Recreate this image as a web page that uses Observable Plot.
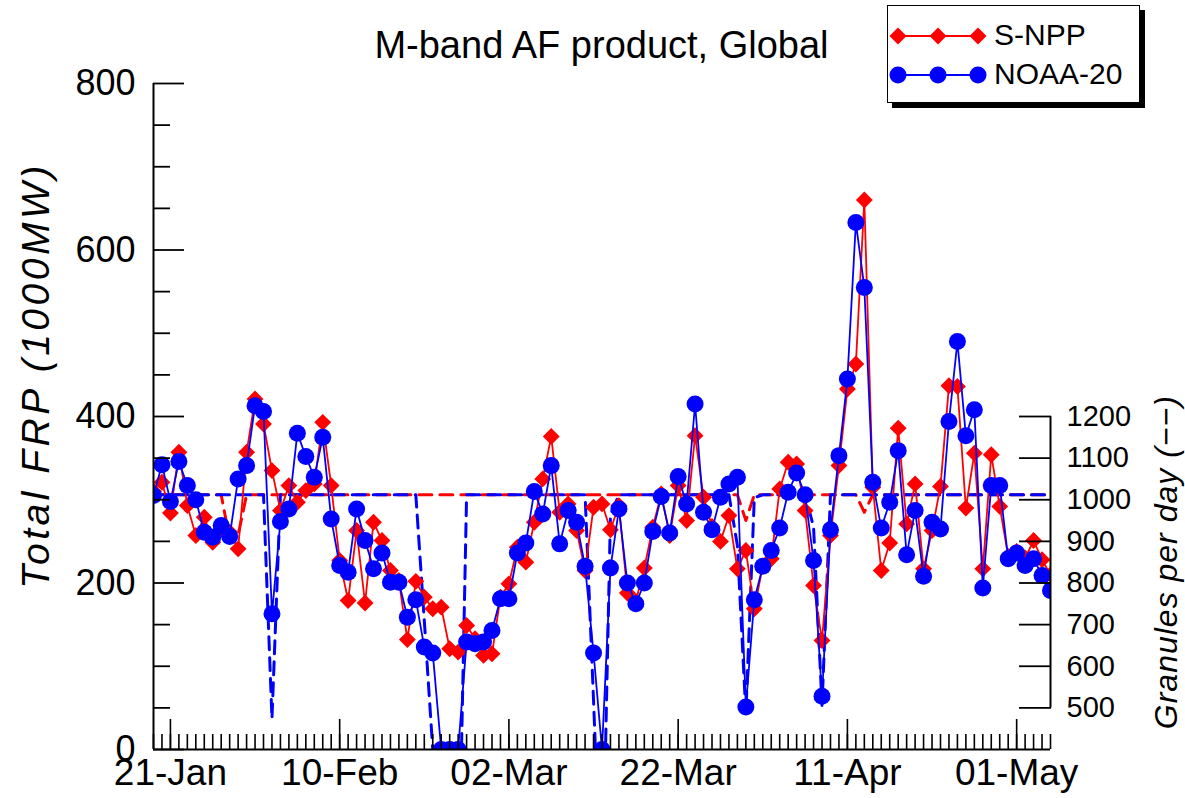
<!DOCTYPE html>
<html>
<head>
<meta charset="utf-8">
<script src="https://cdn.jsdelivr.net/npm/d3@7"></script>
<script src="https://cdn.jsdelivr.net/npm/@observablehq/plot@0.6"></script>
<style>
  body { margin: 0; background: #fff; font-family: "Liberation Sans", Arial, Helvetica, sans-serif; }
  #wrap { position: relative; width: 1185px; height: 798px; overflow: hidden; }
  #title { position: absolute; left: 153px; width: 897px; top: 24px; text-align: center; font-size: 38px; line-height: 42px; color: #000; }
  #legend { position: absolute; left: 887px; top: 5px; width: 253px; height: 98px; box-sizing: border-box;
            border: 1.5px solid #000; background: #fff; box-shadow: 5px 5px 0 #000; }
  #legend svg { position: absolute; left: 0; top: 0; }
  #legend .lab { position: absolute; left: 106px; font-size: 30px; line-height: 34px; color: #000; }
</style>
</head>
<body>
<div id="wrap">
  <div id="chart"></div>
  <div id="title">M-band AF product, Global</div>
  <div id="legend"></div>
</div>
<script>
// ---------- data (daily, starting 19-Jan) ----------
const startDate = "2021-01-19";

// Total FRP (1000MW), S-NPP
const snpp = [
  310,321,284,357,293,257,279,249,265,261,241,357,421,                       // Jan 19-31
  391,335,287,317,297,311,319,393,317,227,179,263,176,273,251,215,203,132,    // Feb 1-18
  202,183,169,171,121,117,149,133,113,115,                                    // Feb 19-28
  183,199,243,225,273,325,376,285,295,263,215,291,295,264,293,188,178,218,    // Mar 1-18
  267,307,257,317,275,377,303,268,250,281,217,239,169,                        // Mar 19-31
  220,229,313,345,343,287,197,131,257,341,433,463,660,315,215,248,386,271,    // Apr 1-18
  319,217,263,316,437,436,290,356,217,354,292,232,                            // Apr 19-30
  238,230,251,228,210                                                         // May 1-5
];

// Total FRP (1000MW), NOAA-20
const noaa20 = [
  305,342,298,346,317,300,261,255,269,256,325,341,413,
  406,163,274,289,380,352,327,375,277,221,213,289,251,217,236,201,201,159,
  180,123,116,0,0,0,129,127,129,143,
  181,181,236,248,310,283,341,247,287,273,220,116,0,218,289,200,175,200,
  262,304,260,328,295,415,285,264,303,319,327,51,180,
  220,239,266,309,332,306,227,64,264,353,445,633,555,321,266,297,359,234,
  287,208,273,265,394,490,377,408,194,317,317,229,
  236,221,229,209,191
];

// Granules per day, S-NPP
const granSnpp = [
  1012,1012,1012,1012,1012,1012,1012,1012,1012,905,915,1012,1012,
  1012,1012,1012,1012,1012,1012,1012,1012,1012,1012,1012,1012,1012,1012,1012,1012,1012,1012,
  1012,1012,1012,1012,1012,1012,1012,1012,1012,1012,
  1012,1012,1012,1012,1012,1012,1012,1012,1012,1012,1012,1012,1012,1012,1012,1012,1012,1012,
  1012,1012,1012,1012,1012,1012,1012,1012,1012,1012,1012,950,1012,
  1012,1012,1012,1012,1012,1012,1012,1012,1012,1012,1012,1012,970,1012,1012,1012,1012,1012,
  1012,1012,1012,1012,1012,1012,1012,1012,1012,1012,1012,1012,
  1012,1012,1012,1012,1012
];

// Granules per day, NOAA-20
const granNoaa20 = [
  1012,1012,1012,1012,1012,1012,1012,1012,1012,1012,1012,1012,1012,
  1012,474,1012,1012,1012,1012,1012,1012,1012,1012,1012,1012,1012,1012,1012,1012,1012,1012,
  1012,710,400,0,0,0,1012,1012,1012,1012,
  1012,1012,1012,1012,1012,1012,1012,1012,1012,1012,1012,518,0,964,1012,1012,1012,1012,
  1012,1012,1012,1012,1012,1012,1012,1012,1012,1012,890,486,1005,
  1012,1012,1012,1012,1012,1012,935,506,1012,1012,1012,1012,1012,1012,1012,1012,1012,1012,
  1012,1012,1012,1012,1012,1012,1012,1012,1012,1012,1012,1012,
  1012,1012,1012,1012,1012
];

const xTickLabels = ["21-Jan", "10-Feb", "02-Mar", "22-Mar", "11-Apr", "01-May"];
const frpMajor = [0, 200, 400, 600, 800];
const frpMinor = [50, 100, 150, 250, 300, 350, 450, 500, 550, 650, 700, 750];
const granTicks = [500, 600, 700, 800, 900, 1000, 1100, 1200];
const seriesNames = ["S-NPP", "NOAA-20"];
const yLabel = "Total FRP (1000MW)";
const rLabel = "Granules per day (\u2212\u2212)";

// ---------- build ----------
const RED = "#ff0000", BLUE = "#0000ff";
const d0 = d3.utcParse("%Y-%m-%d")(startDate);
const dates = snpp.map((_, i) => d3.utcDay.offset(d0, i));
const dEnd = dates[dates.length - 1];
const year = d0.getUTCFullYear();
const xMajor = xTickLabels.map(s => d3.utcParse("%d-%b-%Y")(s + "-" + year));
const fmt = d3.utcFormat("%d-%b");
// secondary axis: granules g placed on the FRP axis (1200 -> 400, 500 -> 50)
const toY = g => g / 2 - 200;
const fromY = v => String(Math.round((v + 200) * 2));

const rows = dates.map((date, i) => ({
  date, snpp: snpp[i], noaa: noaa20[i], gS: toY(granSnpp[i]), gN: toY(granNoaa20[i])
}));
const blank = () => "";
const gMid = (granTicks[0] + granTicks[granTicks.length - 1]) / 2;

const chart = Plot.plot({
  width: 1185, height: 798,
  marginLeft: 153, marginRight: 135, marginTop: 83, marginBottom: 49,
  style: { fontFamily: "'Liberation Sans', Arial, Helvetica, sans-serif", color: "#000", background: "#fff", overflow: "visible" },
  x: { type: "utc", domain: [d0, dEnd], label: null },
  y: { domain: [0, 800], label: null },
  marks: [
    // granule dashed lines
    Plot.line(rows, { x: "date", y: "gS", stroke: RED, strokeWidth: 3, strokeDasharray: "13,8", clip: true }),
    Plot.line(rows, { x: "date", y: "gN", stroke: BLUE, strokeWidth: 3, strokeDasharray: "13,8", clip: true }),
    // FRP series
    Plot.line(rows, { x: "date", y: "snpp", stroke: RED, strokeWidth: 1.8, clip: true }),
    Plot.dot(rows, { x: "date", y: "snpp", symbol: "diamond2", r: 7.6, fill: RED, clip: true }),
    Plot.line(rows, { x: "date", y: "noaa", stroke: BLUE, strokeWidth: 1.8, clip: true }),
    Plot.dot(rows, { x: "date", y: "noaa", r: 8.5, fill: BLUE, clip: true }),
    // axis lines
    Plot.ruleX([d0], { stroke: "#000", strokeWidth: 2 }),
    Plot.ruleY([0], { stroke: "#000", strokeWidth: 2 }),
    Plot.ruleX([dEnd], { y1: toY(granTicks[0]), y2: toY(granTicks[granTicks.length - 1]), stroke: "#000", strokeWidth: 2 }),
    // x axis
    Plot.axisX(dates, { tickSize: -15, tickFormat: blank, strokeWidth: 1.6, label: null }),
    Plot.axisX(xMajor, { tickSize: -30, tickFormat: blank, strokeWidth: 1.6, label: null }),
    Plot.axisX(xMajor, { tickSize: 0, tickPadding: 9, tickFormat: fmt, fontSize: 37, label: null }),
    // left y axis
    Plot.axisY(frpMinor, { tickSize: -17, tickFormat: blank, strokeWidth: 1.8, label: null }),
    Plot.axisY(frpMajor, { tickSize: -31, tickFormat: blank, strokeWidth: 1.8, label: null }),
    Plot.axisY(frpMajor, { tickSize: 0, tickPadding: 18, fontSize: 36, label: null }),
    // right y axis (granules)
    Plot.axisY(granTicks.map(toY), { anchor: "right", tickSize: -32, tickFormat: blank, strokeWidth: 1.8, label: null }),
    Plot.axisY(granTicks.map(toY), { anchor: "right", tickSize: 0, tickPadding: 16, tickFormat: fromY, fontSize: 29, label: null }),
    // axis titles
    Plot.text([yLabel], { text: d => d, frameAnchor: "left", textAnchor: "middle", rotate: -90, dx: -117, dy: -41, fontSize: 39, fontStyle: "italic" }),
    Plot.text([rLabel], { text: d => d, x: [dEnd], y: [toY(gMid)], textAnchor: "middle", rotate: -90, dx: 116, fontSize: 32, fontStyle: "italic" })
  ]
});
// slightly wider tracking on the two axis titles, as in the original rendering
chart.querySelectorAll("text").forEach(t => {
  if (t.textContent === yLabel) t.setAttribute("letter-spacing", "3.5");
  if (t.textContent === rLabel) t.setAttribute("letter-spacing", "1");
});
document.getElementById("chart").appendChild(chart);

// ---------- legend ----------
(function () {
  const lg = document.getElementById("legend");
  const ns = "http://www.w3.org/2000/svg";
  const svg = document.createElementNS(ns, "svg");
  svg.setAttribute("width", 250); svg.setAttribute("height", 95);
  const rowsY = [30, 69];
  const xs = [10, 50, 90];
  const cols = [RED, BLUE];
  rowsY.forEach((yy, k) => {
    const ln = document.createElementNS(ns, "line");
    ln.setAttribute("x1", xs[0]); ln.setAttribute("x2", xs[2]);
    ln.setAttribute("y1", yy); ln.setAttribute("y2", yy);
    ln.setAttribute("stroke", cols[k]); ln.setAttribute("stroke-width", 1.8);
    svg.appendChild(ln);
    xs.forEach(xx => {
      let m;
      if (k === 0) {
        m = document.createElementNS(ns, "path");
        const h = 8.5;
        m.setAttribute("d", `M${xx},${yy - h}L${xx + h},${yy}L${xx},${yy + h}L${xx - h},${yy}Z`);
      } else {
        m = document.createElementNS(ns, "circle");
        m.setAttribute("cx", xx); m.setAttribute("cy", yy); m.setAttribute("r", 8.5);
      }
      m.setAttribute("fill", cols[k]);
      svg.appendChild(m);
    });
    const t = document.createElement("div");
    t.className = "lab";
    t.style.top = (yy - 18) + "px";
    t.textContent = seriesNames[k];
    lg.appendChild(t);
  });
  lg.insertBefore(svg, lg.firstChild);
})();
</script>
</body>
</html>
